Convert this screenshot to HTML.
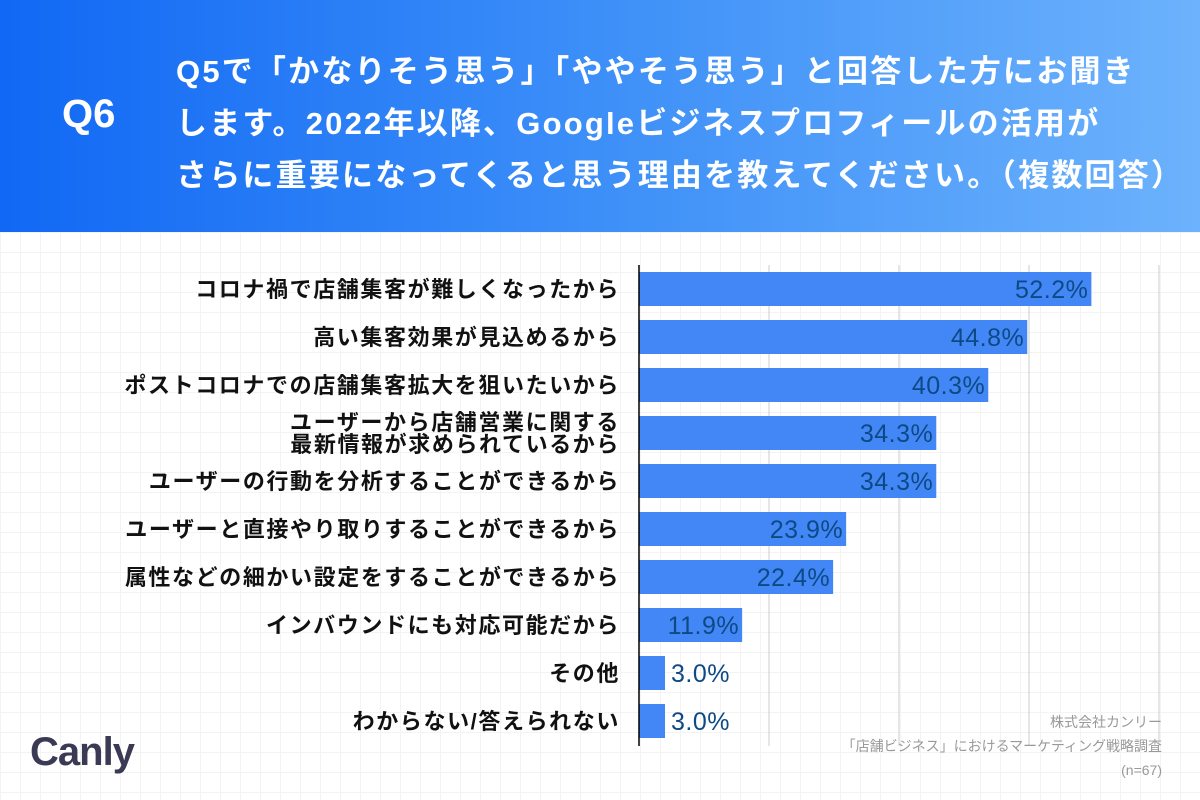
<!DOCTYPE html>
<html><head><meta charset="utf-8"><style>
body{margin:0;width:1200px;height:800px;overflow:hidden;background:#fff;font-family:"Liberation Sans","Noto Sans CJK JP",sans-serif}
#hdr{position:absolute;left:0;top:0;width:1200px;height:232px;background:linear-gradient(90deg,#1168f4 0%,#3d8ff8 50%,#6cb2fc 100%)}
#q6{position:absolute;left:62px;top:92px;color:#fff;font-size:40px;font-weight:bold}
#qt{position:absolute;left:176px;top:46px;color:#fff;font-size:31px;font-weight:bold;line-height:52px;white-space:nowrap;letter-spacing:2.2px}
.bg{position:absolute;left:0;top:232px;width:1200px;height:568px;background-image:linear-gradient(#f3f3f3 1px,transparent 1px),linear-gradient(90deg,#f3f3f3 1px,transparent 1px);background-size:20px 20px}
</style></head><body>
<div class="bg"></div>
<div id="hdr">
<div id="q6">Q6</div>
<div id="qt">Q5で「かなりそう思う」「ややそう思う」と回答した方にお聞き<br>します。2022年以降、Googleビジネスプロフィールの活用が<br>さらに重要になってくると思う理由を教えてください。（複数回答）</div>
</div>
<svg id="chart" width="1200" height="800" style="position:absolute;left:0;top:0"></svg>
<div style="position:absolute;left:30px;top:730px;font-size:40px;font-weight:bold;color:#3a3a55;letter-spacing:-1px">Canl<span style="color:#3a3a55">y</span></div>
<div style="position:absolute;right:38px;top:710px;text-align:right;color:#999;font-size:14px;line-height:24px">株式会社カンリー<br>「店舗ビジネス」におけるマーケティング戦略調査<br>(n=67)</div>
<script>
const categories=[["コロナ禍で店舗集客が難しくなったから"],["高い集客効果が見込めるから"],["ポストコロナでの店舗集客拡大を狙いたいから"],["ユーザーから店舗営業に関する","最新情報が求められているから"],["ユーザーの行動を分析することができるから"],["ユーザーと直接やり取りすることができるから"],["属性などの細かい設定をすることができるから"],["インバウンドにも対応可能だから"],["その他"],["わからない/答えられない"]];
const values=[52.2,44.8,40.3,34.3,34.3,23.9,22.4,11.9,3.0,3.0];
const gridTicks=[15,30,45,60];
const svg=document.getElementById('chart');const NS='http://www.w3.org/2000/svg';
const x0=639,pxPer=130/15,y0=289,step=48,bh=34;
const X=v=>x0+v*pxPer;const Y=i=>y0+i*step;
function mk(t,a){const e=document.createElementNS(NS,t);for(const k in a)e.setAttribute(k,a[k]);svg.appendChild(e);return e;}
gridTicks.forEach(t=>{const l=mk('line',{x1:X(t),x2:X(t),y1:265,y2:746,stroke:'#ccc','stroke-width':1});

});
values.forEach((v,i)=>{
const r=mk('rect',{x:x0,y:Y(i)-bh/2,width:v*pxPer,height:bh,fill:'#4287f5'});


const big=v>=10;
const t=mk('text',{x:big?X(v)-3:X(v)+6,y:Y(i)+9,'text-anchor':big?'end':'start',fill:'#0d4a85','font-size':25,'font-family':'Liberation Sans, sans-serif','letter-spacing':'0.5'});
t.textContent=v.toFixed(1)+'%';


const lines=categories[i];
lines.forEach((s,j)=>{const c=mk('text',{x:620,y:Y(i)+8+(j-(lines.length-1)/2)*22,'text-anchor':'end',fill:'#111','font-size':22,'font-weight':'bold','letter-spacing':'1.6','font-family':'Liberation Sans, Noto Sans CJK JP, sans-serif'});
c.textContent=s;

});
});
const ax=mk('line',{x1:x0,x2:x0,y1:265,y2:746,stroke:'#000','stroke-width':1.5});


</script>
</body></html>
